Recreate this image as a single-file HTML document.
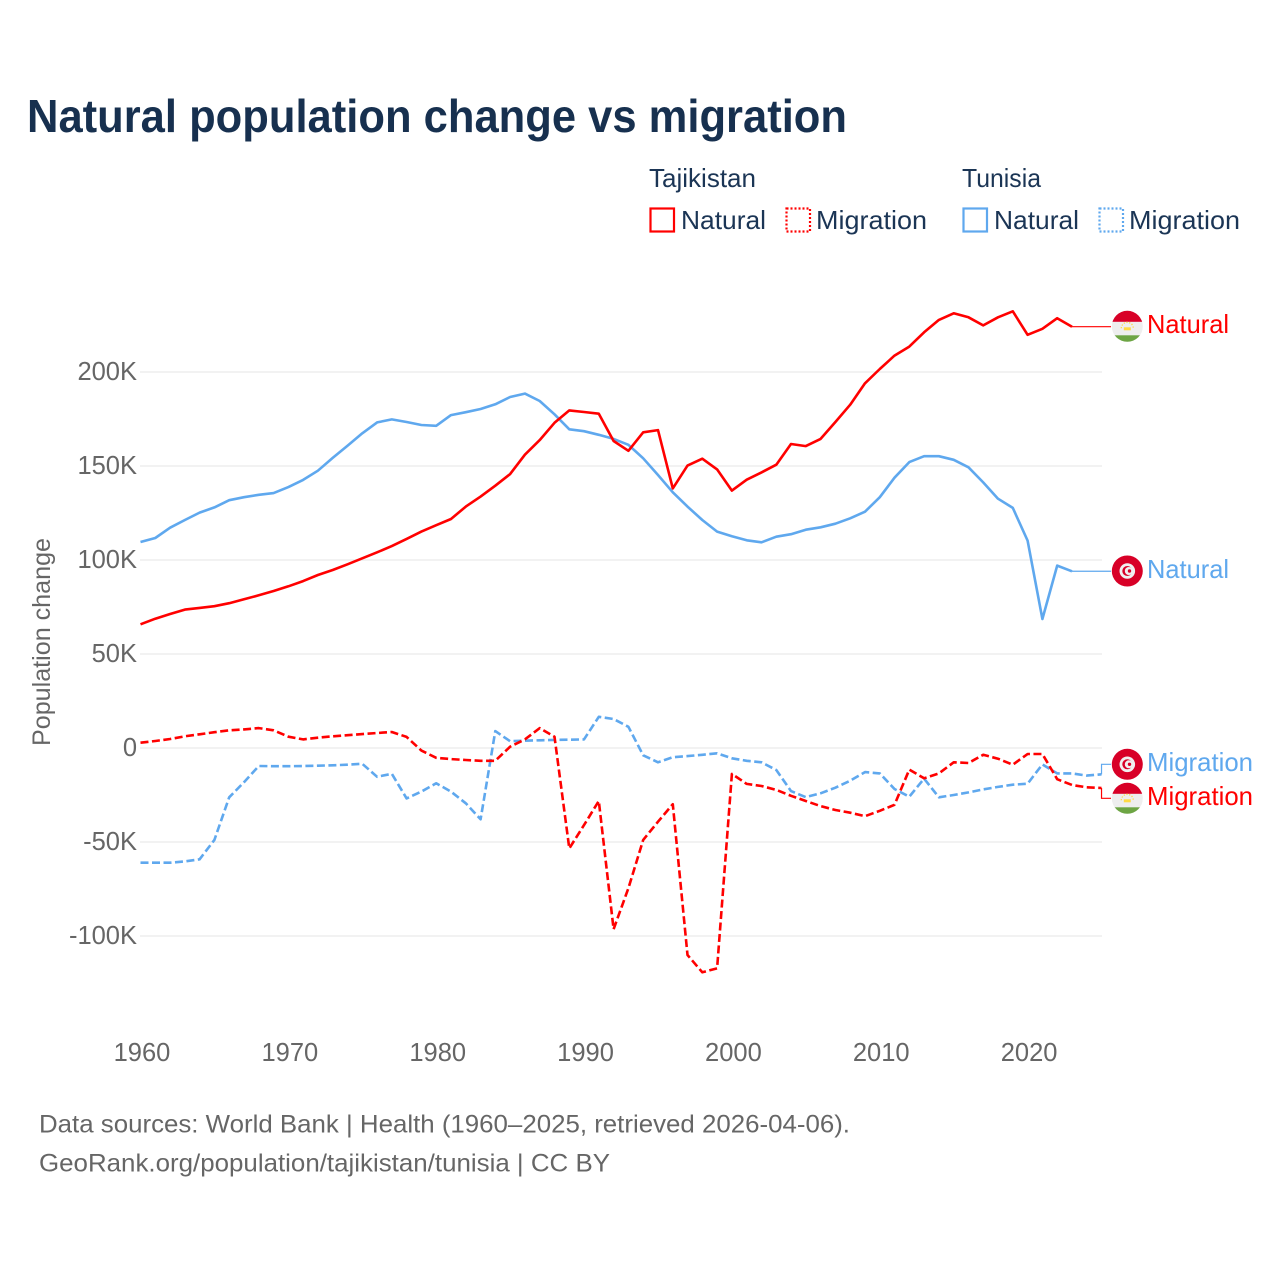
<!DOCTYPE html>
<html lang="en">
<head>
<meta charset="utf-8">
<title>Natural population change vs migration</title>
<style>
html,body{margin:0;padding:0;background:#fff}
svg{display:block}
text{font-family:"Liberation Sans",sans-serif}
</style>
</head>
<body>
<svg id="chart" xmlns="http://www.w3.org/2000/svg" width="1280" height="1280" viewBox="0 0 1280 1280">
  <rect width="1280" height="1280" fill="#fff"/>
  <text x="27" y="132" font-size="46" font-weight="700" fill="#17304f" textLength="820" lengthAdjust="spacingAndGlyphs">Natural population change vs migration</text>

  <g font-size="26" fill="#1b3555">
    <text x="649" y="187" textLength="107" lengthAdjust="spacingAndGlyphs">Tajikistan</text>
    <text x="962" y="187" textLength="79" lengthAdjust="spacingAndGlyphs">Tunisia</text>
    <rect x="650.5" y="208.5" width="23.5" height="23" fill="none" stroke="#ff0000" stroke-width="2.2"/>
    <text x="681" y="229" textLength="85" lengthAdjust="spacingAndGlyphs">Natural</text>
    <rect x="786.5" y="208.5" width="23.5" height="23" fill="none" stroke="#ff0000" stroke-width="2.2" stroke-dasharray="2 2"/>
    <text x="816" y="229" textLength="111" lengthAdjust="spacingAndGlyphs">Migration</text>
    <rect x="963.5" y="208.5" width="23.5" height="23" fill="none" stroke="#5fa8ee" stroke-width="2.2"/>
    <text x="994" y="229" textLength="85" lengthAdjust="spacingAndGlyphs">Natural</text>
    <rect x="1099.5" y="208.5" width="23.5" height="23" fill="none" stroke="#5fa8ee" stroke-width="2.2" stroke-dasharray="2 2"/>
    <text x="1129" y="229" textLength="111" lengthAdjust="spacingAndGlyphs">Migration</text>
  </g>

  <g id="grid"></g>
  <g id="yticks" font-size="25.5" fill="#666" text-anchor="end"></g>
  <g id="xticks" font-size="25.5" fill="#666" text-anchor="middle"></g>
  <text transform="translate(50,746) rotate(-90)" font-size="25" fill="#666" textLength="208" lengthAdjust="spacingAndGlyphs">Population change</text>
  <g id="series"></g>

  <defs>
    <clipPath id="flag-clip"><circle cx="0" cy="0" r="15.5"/></clipPath>
    <g id="flag-tj">
      <g clip-path="url(#flag-clip)">
        <rect x="-16" y="-16" width="32" height="32" fill="#eeeeee"/>
        <rect x="-16" y="-16" width="32" height="11.5" fill="#d80027"/>
        <rect x="-16" y="9" width="32" height="7" fill="#6da544"/>
        <rect x="-3.5" y="1" width="7" height="3" fill="#ffda44"/>
        <path d="M-6 2a6 6 0 0 1 12 0" fill="none" stroke="#ffda44" stroke-width="1.3" stroke-dasharray="1.3 1.5"/>
      </g>
    </g>
    <g id="flag-tn">
      <circle r="15.5" fill="#d80027"/>
      <circle r="7.8" fill="#f0f0f0"/>
      <circle r="5" fill="#d80027"/>
      <circle cx="1.5" r="4" fill="#f0f0f0"/>
      <circle cx="2.2" r="1.7" fill="#d80027"/>
    </g>
  </defs>
  <use href="#flag-tj" x="1127.3" y="326.3"/>
  <use href="#flag-tn" x="1127.3" y="571"/>
  <use href="#flag-tj" x="1127.3" y="798.3"/>
  <use href="#flag-tn" x="1127.3" y="764.3"/>

  <g font-size="26">
    <text x="1147" y="333" fill="#ff0000" textLength="82" lengthAdjust="spacingAndGlyphs">Natural</text>
    <text x="1147" y="578" fill="#5fa8ee" textLength="82" lengthAdjust="spacingAndGlyphs">Natural</text>
    <text x="1147" y="771" fill="#5fa8ee" textLength="106" lengthAdjust="spacingAndGlyphs">Migration</text>
    <text x="1147" y="805" fill="#ff0000" textLength="106" lengthAdjust="spacingAndGlyphs">Migration</text>
  </g>

  <g font-size="25" fill="#666">
    <text x="39" y="1132.5" textLength="811" lengthAdjust="spacingAndGlyphs">Data sources: World Bank | Health (1960–2025, retrieved 2026-04-06).</text>
    <text x="39" y="1171.5" textLength="571" lengthAdjust="spacingAndGlyphs">GeoRank.org/population/tajikistan/tunisia | CC BY</text>
  </g>
</svg>

<script>
const firstYear = 1960;
const xTickYears = [1960, 1970, 1980, 1990, 2000, 2010, 2020];
const yTickValues = [200, 150, 100, 50, 0, -50, -100];
const yTickLabels = ["200K", "150K", "100K", "50K", "0", "-50K", "-100K"];

const tajikistanNatural = [65.8,68.8,71.3,73.6,74.5,75.4,77.0,79.1,81.2,83.5,86.0,88.8,92.0,94.7,97.7,100.9,104.1,107.4,111.2,115.1,118.5,121.8,128.4,133.7,139.5,145.7,156.0,163.8,173.0,179.6,178.7,177.8,163.3,158.1,167.9,169.1,138.1,150.2,153.9,148.2,136.9,142.7,146.6,150.7,161.7,160.6,164.4,173.4,182.6,194.0,201.6,208.7,213.5,221.1,227.7,231.2,229.1,224.8,229.1,232.3,219.8,223.0,228.6,224.1];
const tunisiaNatural = [109.6,111.7,117.2,121.3,125.2,128.0,131.8,133.4,134.7,135.6,138.8,142.6,147.5,154.3,160.8,167.4,173.2,174.8,173.4,171.8,171.4,177.1,178.6,180.3,182.8,186.7,188.5,184.6,177.5,169.5,168.5,166.6,164.4,161.3,154.1,145.2,136.0,128.4,121.3,115.1,112.6,110.5,109.4,112.4,113.7,116.1,117.4,119.3,122.2,125.7,133.4,143.8,152.1,155.2,155.2,153.3,149.3,141.3,132.6,127.7,110.3,68.6,97.0,94.0];
const tajikistanMigration = [2.8,3.7,4.8,6.2,7.3,8.4,9.4,9.9,10.6,9.4,6.0,4.6,5.5,6.2,6.8,7.4,8.0,8.5,5.9,-1.4,-5.2,-5.9,-6.4,-6.8,-6.8,0.7,4.6,10.6,6.0,-53.4,-41.0,-28.2,-96.4,-74.6,-48.9,-39.2,-29.9,-110.1,-119.3,-117.2,-13.8,-19.1,-20.2,-22.3,-25.4,-28.2,-30.9,-33.0,-34.4,-36.3,-33.4,-30.2,-11.5,-16.1,-13.5,-7.6,-8.0,-3.6,-5.7,-8.9,-3.2,-3.2,-16.6,-19.7,-20.9,-21.3];
const tunisiaMigration = [-61.0,-61.0,-61.0,-60.3,-59.2,-48.9,-26.2,-18.2,-9.6,-9.7,-9.7,-9.6,-9.4,-9.2,-8.9,-8.4,-15.3,-13.7,-26.8,-23.2,-18.8,-23.2,-29.4,-37.9,9.0,3.6,3.9,4.1,4.3,4.4,4.6,16.6,15.4,11.3,-3.9,-7.6,-4.9,-4.3,-3.6,-2.8,-5.5,-6.8,-7.6,-11.7,-22.9,-26.1,-24.1,-21.1,-17.4,-12.8,-13.5,-21.8,-25.9,-16.3,-26.2,-25.0,-23.6,-22.0,-20.7,-19.5,-19.0,-8.7,-13.5,-13.5,-14.7,-14.0];

const SVG_NS = "http://www.w3.org/2000/svg";
const RED = "#ff0000";
const BLUE = "#5fa8ee";
const xScale = function (year) { return 140.5 + (year - 1960) * 14.785; };
const yScale = function (value) { return 748 - value * 1.88; };

const gridGroup = document.getElementById("grid");
const yTickGroup = document.getElementById("yticks");
const xTickGroup = document.getElementById("xticks");
const seriesGroup = document.getElementById("series");

yTickValues.forEach(function (value, i) {
  const y = yScale(value);
  const line = document.createElementNS(SVG_NS, "line");
  
  
  line.setAttribute("x1", 140);
  line.setAttribute("x2", 1102);
  line.setAttribute("y1", y);
  line.setAttribute("y2", y);
  line.setAttribute("stroke", "#eeeeee");
  line.setAttribute("stroke-width", "1.5");
  gridGroup.appendChild(line);

  const label = document.createElementNS(SVG_NS, "text");
  
  
  label.setAttribute("x", 137);
  label.setAttribute("y", y + 8);
  label.textContent = yTickLabels[i];
  yTickGroup.appendChild(label);
});

xTickYears.forEach(function (year) {
  const label = document.createElementNS(SVG_NS, "text");
  
  
  label.setAttribute("x", xScale(year) + 1.5);
  label.setAttribute("y", 1061);
  label.textContent = String(year);
  xTickGroup.appendChild(label);
});

function pointsFor(values) {
  return values.map(function (value, i) {
    return xScale(firstYear + i).toFixed(1) + "," + yScale(value).toFixed(1);
  }).join(" ");
}

function drawSeries(values, color, dashed, name, endY) {
  const lastIndex = values.length - 1;
  const lastX = xScale(firstYear + lastIndex);
  const lastY = yScale(values[lastIndex]);

  const connector = document.createElementNS(SVG_NS, "polyline");
  
  
  connector.setAttribute("points", lastX + "," + lastY + " " + lastX + "," + endY + " 1111," + endY);
  connector.setAttribute("fill", "none");
  connector.setAttribute("stroke", color);
  connector.setAttribute("stroke-width", "1.2");
  seriesGroup.appendChild(connector);

  const line = document.createElementNS(SVG_NS, "polyline");
  
  
  line.setAttribute("points", pointsFor(values));
  line.setAttribute("fill", "none");
  line.setAttribute("stroke", color);
  line.setAttribute("stroke-width", "2.6");
  line.setAttribute("stroke-linejoin", "round");
  if (dashed) {
    line.setAttribute("stroke-dasharray", "8 3.5");
  }
  seriesGroup.appendChild(line);
}

drawSeries(tunisiaNatural, BLUE, false, "line-tunisia-natural", yScale(tunisiaNatural[tunisiaNatural.length - 1]));
drawSeries(tajikistanNatural, RED, false, "line-tajikistan-natural", yScale(tajikistanNatural[tajikistanNatural.length - 1]));
drawSeries(tunisiaMigration, BLUE, true, "line-tunisia-migration", 764.3);
drawSeries(tajikistanMigration, RED, true, "line-tajikistan-migration", 798.3);
</script>
</body>
</html>
